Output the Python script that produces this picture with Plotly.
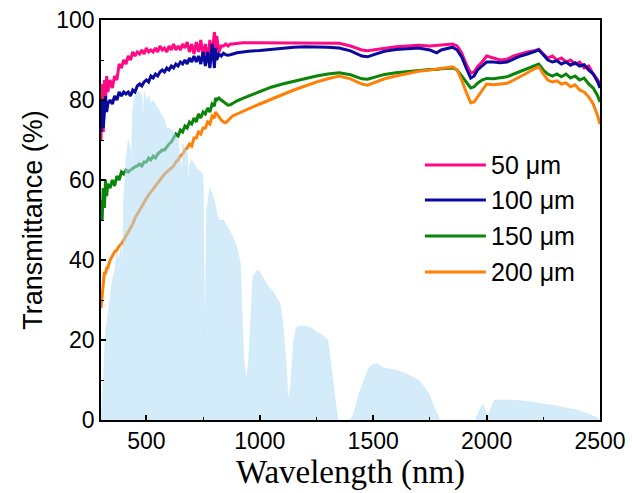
import plotly.graph_objects as go

# Wavelength grid (nm) shared by the four transmittance spectra
wavelength_nm = [
    300, 305, 310, 315, 320, 325, 330, 340, 350, 360, 370, 380, 390, 400, 410, 420, 430, 440,
    450, 460, 470, 480, 490, 500, 510, 520, 530, 540, 550, 560, 570, 580, 590, 600, 610, 620,
    630, 640, 650, 660, 670, 680, 690, 700, 710, 720, 730, 740, 750, 760, 770, 780, 790, 800,
    805, 810, 820, 830, 840, 850, 860, 870, 880, 900, 925, 950, 1000, 1050, 1100, 1150, 1200,
    1250, 1300, 1350, 1400, 1450, 1475, 1500, 1550, 1600, 1650, 1700, 1750, 1780, 1800, 1850,
    1870, 1890, 1910, 1930, 1945, 1960, 1980, 2000, 2030, 2060, 2090, 2120, 2150, 2180, 2210,
    2230, 2250, 2270, 2290, 2310, 2330, 2350, 2370, 2390, 2410, 2430, 2450, 2470, 2490, 2500,
]

t_50um = [
    70, 84, 72, 85, 80, 86, 82, 85, 83, 86, 85, 89, 88, 90, 89, 91, 90, 92,
    91, 92, 91.5, 92.5, 91.5, 93, 92, 92.5, 92, 93, 92, 93.5, 92.5, 93, 92, 93.5, 92.5, 94,
    92.5, 93.5, 92.5, 94, 93, 94.5, 92, 94, 91.5, 94.5, 92, 95, 91, 94, 90, 95, 91, 97,
    93, 96, 92, 93.5, 93.5, 94, 93.5, 94, 94, 94.2, 94.3, 94.3, 94.3, 94.3, 94.3, 94.3, 94.3,
    94.3, 94.2, 94.2, 93.5, 92.5, 92.3, 92.5, 93, 93.3, 93.5, 93.7, 93.5, 93.6, 93.8, 94,
    93.5, 91.8, 89, 86.7, 87, 88.3, 89.5, 91, 90.5, 90, 90.2, 91, 91.5, 92, 92.3,
    92.7, 91.5, 90.5, 91, 90, 90.5, 89.5, 90, 89, 89.5, 88, 88.5, 86.5, 85, 84,
]

t_100um = [
    72, 80, 73, 78, 81, 77, 79, 80, 79, 81, 80, 82, 81, 82, 81.5, 82, 81, 82.5,
    82, 83.5, 84, 83.5, 84.5, 85, 84.5, 86, 85.5, 86.5, 86, 87, 87.5, 87, 88, 87.5, 88.5, 88,
    89, 88.5, 89.5, 89, 90, 89, 90.5, 89.5, 91, 89.5, 91, 89, 92, 88.5, 92, 88, 94, 88,
    93, 90, 91.5, 91, 91.7, 91.3, 91.2, 91.3, 91.5, 91.8, 92, 92.2, 92.4, 92.7, 93, 93.2, 93.3,
    93.3, 93.2, 93, 92.3, 91, 90.8, 91.3, 92.2, 92.6, 92.8, 93, 92.5, 91.8, 92.5, 93.2,
    92.5, 90.8, 88, 85.5, 86, 87.5, 88.5, 89.5, 89.5, 89.3, 89.5, 90.3, 91, 91.5, 92,
    92.5, 91.3, 90, 89.5, 89.8, 89, 89.5, 88.7, 89.3, 88.5, 88.8, 87.5, 86.5, 84.5, 83,
]

t_150um = [
    55, 50, 58, 53, 60, 56, 59, 58, 60, 58.5, 61, 60, 62, 61.5, 62.5, 62, 62.5, 63,
    63.3, 63.5, 64, 63.5, 64.5, 64.5, 65.5, 65, 66, 65.5, 66.5, 67, 67.5, 67.5, 68.3, 69, 69.5, 70.5,
    71.5, 71, 72.5, 72, 73.5, 73, 74.5, 74, 75.5, 74.5, 76.5, 75.5, 77, 76.5, 78, 77, 79, 78.5,
    80.5, 80, 80.5, 80, 79.5, 79, 78.7, 78.8, 79.2, 79.8, 80.4, 81, 82.2, 83.2, 84, 84.7, 85.3,
    86, 86.5, 86.8, 86.3, 85.3, 85.2, 85.6, 86.4, 86.8, 87.1, 87.4, 87.6, 87.6, 87.8, 88,
    87.5, 86, 84.5, 83, 83.3, 84.2, 85, 85.4, 85.3, 85.5, 85.8, 86.5, 87.2, 87.8, 88.5,
    89, 87.5, 86.5, 86, 86.5, 85.8, 86.5, 85.5, 86, 85, 85.5, 84, 83, 81, 79.5,
]

t_200um = [
    28, 32, 34, 37, 36.5, 38, 38, 40, 41, 42, 42.5, 43.5, 44, 45, 46, 47, 48, 49,
    50.5, 51.5, 52.5, 53.5, 54.5, 55.5, 56.3, 57, 57.8, 58.5, 59.3, 60, 60.8, 61.5, 62, 62.5, 63, 63.5,
    64.5, 65, 66, 66.5, 67.5, 68, 69, 68.5, 70.5, 70.5, 72, 71.5, 73, 73, 74.5, 74, 76, 75.5,
    77, 76.5, 75.8, 75, 74.5, 74.3, 74.8, 75.5, 76, 76.5, 77.2, 77.8, 79, 80.2, 81.5, 82.5, 83.5,
    84.5, 85.3, 86, 85.3, 84, 83.7, 84.2, 85.3, 86, 86.6, 87.2, 87.5, 87.7, 87.9, 88.3,
    87.5, 85, 82, 79.3, 79.5, 80.8, 82.5, 84, 83.8, 84, 84.2, 85, 85.8, 86.8, 87.8,
    88.3, 86.5, 85, 84.5, 84.8, 84, 84.3, 83.3, 83.8, 82.5, 82, 80.8, 79, 76, 74,
]

# Solar irradiance (AM1.5G), normalised to the percentage scale
solar_wl = [
    300, 305, 310, 315, 320, 330, 340, 350, 360, 370, 380, 390, 395, 400, 410, 420, 430, 432,
    440, 450, 460, 470, 480, 486, 490, 500, 510, 520, 530, 540, 550, 560, 570, 580, 590, 600,
    620, 640, 656, 660, 680, 687, 690, 700, 720, 740, 750, 758, 762, 765, 780, 800, 810, 820,
    840, 860, 880, 900, 915, 925, 930, 940, 950, 960, 970, 990, 1000, 1030, 1060, 1090, 1100,
    1115, 1125, 1135, 1150, 1160, 1180, 1200, 1230, 1250, 1270, 1300, 1310, 1320, 1335, 1345,
    1400, 1410, 1425, 1440, 1460, 1480, 1500, 1520, 1550, 1600, 1650, 1700, 1730, 1750, 1770,
    1795, 1950, 1965, 1985, 1995, 2005, 2020, 2035, 2060, 2090, 2150, 2200, 2250, 2300, 2350,
    2400, 2450, 2490, 2500,
]

solar_irr = [
    0, 4, 10, 16, 22, 26, 31, 35, 37, 42, 40, 44, 36, 55, 65, 70, 68, 60,
    78, 81, 82, 82, 81, 74, 82, 80, 81, 79, 80, 79, 78, 77, 76, 75, 73, 73,
    72, 70, 62, 69, 67, 58, 64, 65, 63, 62, 61, 20, 35, 52, 58, 55, 52, 50,
    50, 48, 46, 43, 39, 22, 15, 10, 14, 25, 36, 37.5, 37, 34, 32, 29, 25,
    15, 5, 8, 20, 23, 23.5, 23.5, 23, 22, 21.5, 20, 16, 11, 4, 0,
    0, 1, 4, 7, 10, 13, 14, 14, 13, 12.5, 11.5, 10, 8, 6, 3,
    0, 0, 2, 4, 2, 1, 3, 5, 5, 5, 4.8, 4.5, 4, 3.6, 3,
    2.5, 1.5, 0.5, 0,
]

series = [
    ("50 \u03bcm", t_50um, "#ff0a84"),
    ("100 \u03bcm", t_100um, "#0a0a9e"),
    ("150 \u03bcm", t_150um, "#0a850a"),
    ("200 \u03bcm", t_200um, "#ff8008"),
]

fig = go.Figure()

for name, values, color in series:
    fig.add_trace(go.Scatter(
        x=wavelength_nm, y=values, name=name, mode="lines",
        line=dict(color=color, width=3), showlegend=False,
    ))

# Translucent solar spectrum drawn over the transmittance curves
fig.add_trace(go.Scatter(
    x=solar_wl, y=solar_irr, name="AM1.5G", mode="lines",
    fill="tozeroy", fillcolor="rgba(176,218,245,0.55)",
    line=dict(color="rgba(190,225,248,0.6)", width=0.6), showlegend=False,
))

# Legend drawn as line samples with labels beside them
legend_y = [63.75, 55, 46, 37]
for (name, _, color), ly in zip(series, legend_y):
    fig.add_shape(type="line", xref="x", yref="y", x0=1728, x1=1997, y0=ly, y1=ly,
                  line=dict(color=color, width=3))
    fig.add_annotation(x=2012, y=ly, xref="x", yref="y", text=name, showarrow=False,
                       xanchor="left", yanchor="middle",
                       font=dict(family="Liberation Sans, Arial", size=25, color="black"))

axis_common = dict(
    showline=True, linecolor="black", linewidth=1.5, mirror=True,
    ticks="inside", tickcolor="black", tickwidth=1.5, ticklen=5,
    showgrid=False, zeroline=False, automargin=False,
    tickfont=dict(family="Liberation Sans, Arial", size=23, color="black"),
)

fig.update_xaxes(
    range=[300, 2500], tickvals=[500, 1000, 1500, 2000, 2500],
    minor=dict(ticks="inside", tickvals=[750, 1250, 1750, 2250], ticklen=3, tickcolor="black", tickwidth=1.2),
    title=dict(text="Wavelength (nm)", standoff=0,
               font=dict(family="Liberation Serif, Times New Roman", size=33, color="black")),
    **axis_common,
)
fig.update_yaxes(
    range=[0, 100], tickvals=[0, 20, 40, 60, 80, 100],
    minor=dict(ticks="inside", tickvals=[10, 30, 50, 70, 90], ticklen=3, tickcolor="black", tickwidth=1.2),
    title=dict(text="Transmittance (%)", standoff=6,
               font=dict(family="Liberation Sans, Arial", size=27, color="black")),
    **axis_common,
)

fig.update_layout(
    width=632, height=493,
    margin=dict(l=101, r=32, t=20, b=73),
    paper_bgcolor="white", plot_bgcolor="white",
)

fig.write_html("out.html")
